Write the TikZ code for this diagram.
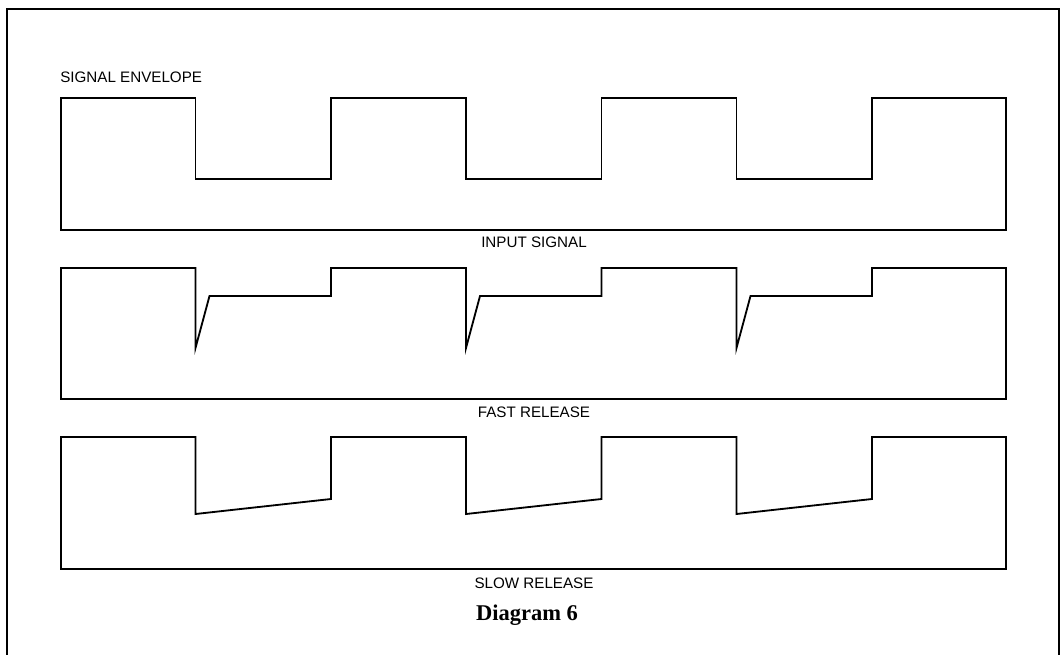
\documentclass[tikz,border=0pt]{standalone}
\usepackage{fontspec}
\setmainfont{Liberation Serif}
\setsansfont{Liberation Sans}
\usepackage{tikz}

\begin{document}
\begin{tikzpicture}[x=0.025cm, y=-0.025cm,
    wave/.style={line width=1.3pt, line join=miter},
    frame/.style={line width=2pt},
    caption/.style={font=\sffamily\fontsize{10.8}{13}\selectfont, inner sep=0pt},
    title/.style={font=\bfseries\fontsize{16}{19}\selectfont, inner sep=0pt}]
  \useasboundingbox (0,0) rectangle (1062,655);
  % outer frame, open at the bottom
  \draw[frame] (7,670) -- (7,9) -- (1059,9) -- (1059,670);

  \node[caption, anchor=west] (envlabel) at (60,77) {SIGNAL ENVELOPE};

  % input signal
  \draw[wave] (61,230) -- (61,98)
    \foreach \d in {195.5,466,736.5} { -- (\d,98) -- (\d,179) -- (\d+135.5,179) -- (\d+135.5,98) }
    -- (1006,98) -- (1006,230) -- cycle;
  \node[caption] (inlabel) at (534,242) {INPUT SIGNAL};

  % fast release
  \draw[wave] (61,399) -- (61,268)
    \foreach \d in {195.5,466,736.5} { -- (\d,268) -- (\d,348) -- (\d+14,296) -- (\d+135.5,296) -- (\d+135.5,268) }
    -- (1006,268) -- (1006,399) -- cycle;
  \node[caption] (fastlabel) at (534,412) {FAST RELEASE};

  % slow release
  \draw[wave] (61,569) -- (61,437)
    \foreach \d in {195.5,466,736.5} { -- (\d,437) -- (\d,514) -- (\d+135.5,499) -- (\d+135.5,437) }
    -- (1006,437) -- (1006,569) -- cycle;
  \node[caption] (slowlabel) at (534,583) {SLOW RELEASE};

  \node[title] (diagtitle) at (527,615) {Diagram 6};
\end{tikzpicture}
\end{document}
